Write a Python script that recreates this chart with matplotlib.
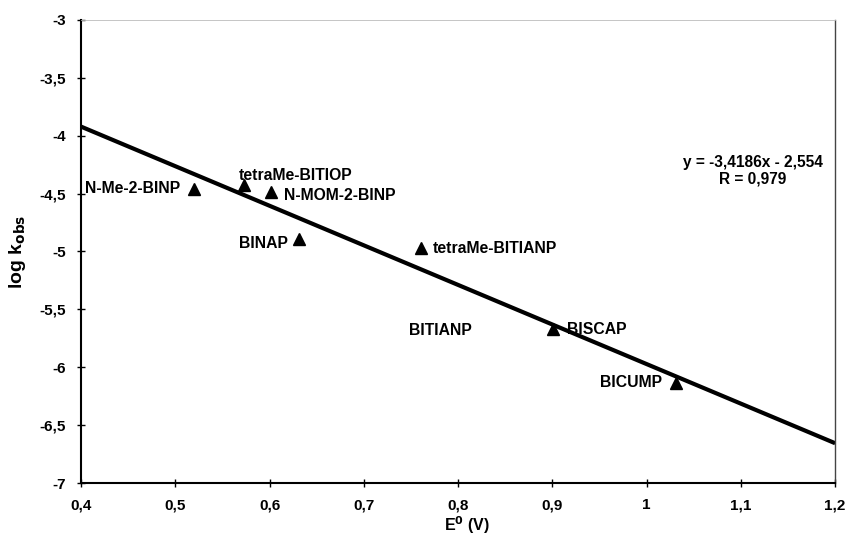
import numpy as np
import matplotlib
matplotlib.use("Agg")
import matplotlib.pyplot as plt

plt.rcParams['font.family'] = ['Liberation Sans', 'DejaVu Sans']

# Data
compounds = ["N-Me-2-BINP", "tetraMe-BITIOP", "N-MOM-2-BINP", "BINAP",
             "tetraMe-BITIANP", "BISCAP", "BICUMP"]
e0 = [0.52, 0.573, 0.602, 0.631, 0.761, 0.901, 1.031]
logk = [-4.46, -4.43, -4.49, -4.89, -4.97, -5.67, -6.14]
slope = -3.4186
intercept = -2.554
fit_x = [0.4, 1.2]
x_ticks = [0.4, 0.5, 0.6, 0.7, 0.8, 0.9, 1.0, 1.1, 1.2]
x_ticklabels = ["0,4", "0,5", "0,6", "0,7", "0,8", "0,9", "1", "1,1", "1,2"]
y_ticks = [-7, -6.5, -6, -5.5, -5, -4.5, -4, -3.5, -3]
y_ticklabels = ["-7", "-6,5", "-6", "-5,5", "-5", "-4,5", "-4", "-3,5", "-3"]

# label placement (x, y, ha) in data coords
labels = [
    ("N-Me-2-BINP", 0.404, -4.46, "left"),
    ("tetraMe-BITIOP", 0.567, -4.34, "left"),
    ("N-MOM-2-BINP", 0.615, -4.52, "left"),
    ("BINAP", 0.620, -4.93, "right"),
    ("tetraMe-BITIANP", 0.773, -4.975, "left"),
    ("BITIANP", 0.748, -5.68, "left"),
    ("BISCAP", 0.916, -5.67, "left"),
    ("BICUMP", 1.016, -6.13, "right"),
]

fig = plt.figure(figsize=(8.47, 5.38), dpi=100)
ax = fig.add_axes([0.0956, 0.1022, 0.8904, 0.8608])

fx = np.array(fit_x)
ax.plot(fx, slope * fx + intercept, color="black", lw=3.0, solid_capstyle="butt", zorder=2)
ax.plot(e0, logk, linestyle="none", marker="^", color="black", markersize=9, zorder=3)

for txt, x, y, ha in labels:
    ax.text(x, y, txt, ha=ha, va="center", fontsize=11.3, fontweight="bold")

ax.text(1.113, -4.305, "y = -3,4186x - 2,554\nR = 0,979", ha="center", va="center",
        fontsize=11.2, fontweight="bold", linespacing=1.1)

ax.set_xlim(0.4, 1.2)
ax.set_ylim(-7, -3)
ax.set_xticks(x_ticks)
ax.set_xticklabels(x_ticklabels)
ax.set_yticks(y_ticks)
ax.set_yticklabels(y_ticklabels)
ax.tick_params(direction="inout", length=6, width=1, labelsize=11)
ax.tick_params(axis="x", pad=16)
ax.tick_params(axis="y", pad=8)
for lab in ax.get_xticklabels():
    lab.set_fontweight("bold")
    lab.set_verticalalignment("baseline")
for lab in ax.get_yticklabels():
    lab.set_fontweight("bold")

ax.spines["left"].set_linewidth(1.5)
ax.spines["bottom"].set_linewidth(1.5)
ax.spines["right"].set_linewidth(1.0)
ax.spines["right"].set_color("#444444")
ax.spines["top"].set_linewidth(0.6)
ax.spines["top"].set_color("#bbbbbb")

ax.set_xlabel("E$^{\\mathbf{0}}$ (V)", fontsize=11.5, fontweight="bold")
ax.xaxis.set_label_coords(0.512, -0.068)
ax.set_ylabel("log k$_{\\mathbf{obs}}$", fontsize=14, fontweight="bold", labelpad=8)

fig.savefig("out.png", dpi=100)
